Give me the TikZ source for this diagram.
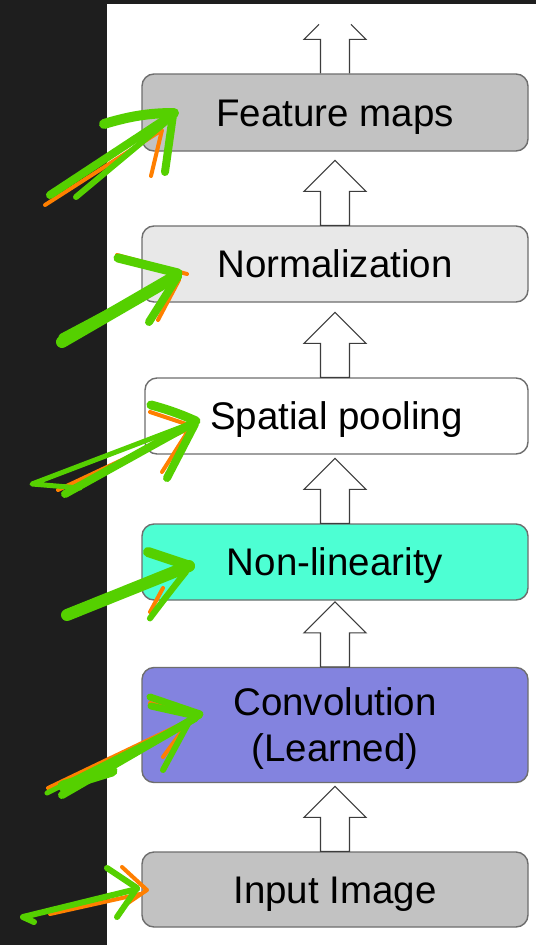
\documentclass[tikz,border=0pt]{standalone}
\usepackage{fontspec}
\setmainfont{Liberation Sans}
\usetikzlibrary{calc}

\definecolor{panel}{HTML}{1E1E1E}
\definecolor{boxline}{HTML}{6E6E6E}
\definecolor{arrowline}{HTML}{3C3C3C}
\definecolor{greyfill}{HTML}{C2C2C2}
\definecolor{lightfill}{HTML}{E8E8E8}
\definecolor{aquafill}{HTML}{4DFFD3}
\definecolor{convfill}{HTML}{8383DF}
\definecolor{pen}{HTML}{55D000}
\definecolor{marker}{HTML}{FF7F00}

\tikzset{
  stage/.style={draw=boxline, line width=1.4pt, rounded corners=12pt,
    minimum width=386pt, inner sep=0pt, align=center,
    font=\fontsize{38.5}{46}\selectfont},
  oneline/.style={text height=27.6pt, text depth=0pt},
  blockline/.style={draw=arrowline, line width=1.1pt, line join=miter},
  % hollow block arrow pointing up from the start box to the target box
  blockup/.style={blockline, fill=white,
    to path={let \p1=(\tikztostart) in
      (\x1-14.5pt,\y1) -- (\x1-14.5pt,\y1+34pt) -- (\x1-31pt,\y1+34pt)
      -- (\x1,\y1+65pt) -- (\x1+31pt,\y1+34pt) -- (\x1+14.5pt,\y1+34pt)
      -- (\x1+14.5pt,\y1) -- cycle}},
  penstroke/.style={draw=pen, line cap=round, line join=round},
  markerstroke/.style={draw=marker, line cap=round, line join=round, line width=4pt},
}

\begin{document}
\begin{tikzpicture}[x=1pt, y=-1pt]
  % dark frame and white page
  \fill[panel] (0,0) rectangle (536,945);
  \fill[white] (107,4) rectangle (536,945);
  \useasboundingbox (0,0) rectangle (536,945);

  % pipeline stages
  \node[stage, oneline, fill=greyfill, minimum height=77pt] (fm) at (335,112.5) {Feature maps};
  \node[stage, oneline, fill=lightfill, minimum height=76pt] (norm) at (335,264) {Normalization};
  \node[stage, oneline, fill=white, minimum width=383pt, minimum height=76pt] (pool) at (336.5,416) {Spatial pooling};
  \node[stage, oneline, fill=aquafill, minimum height=76pt] (nonlin) at (335,562) {Non-linearity};
  \node[stage, text depth=0pt, fill=convfill, minimum height=115pt] (conv) at (335,725) {Convolution\\(Learned)};
  \node[stage, oneline, fill=greyfill, minimum height=75pt] (input) at (335,889.5) {Input Image};

  % hollow arrows between the stages
  \draw[blockup] (input.north) to (conv.south);
  \draw[blockup] (conv.north) to (nonlin.south);
  \draw[blockup] (nonlin.north) to (pool.south -| nonlin.north);
  \draw[blockup] (pool.north -| norm.south) to (norm.south);
  \draw[blockup] (norm.north) to (fm.south);
  % outgoing arrow above the last stage, cut off at the top
  \coordinate (out) at (fm.north);
  \draw[blockline] ($(out)+(-14.5,0)$) -- ++(0,-34) -- ++(-16.5,0) -- ++(15,-15);
  \draw[blockline] ($(out)+(14.5,0)$) -- ++(0,-34) -- ++(16.5,0) -- ++(-15,-15);

  % hand-drawn marker arrows: orange underlay
  \draw[markerstroke] (45,205) -- (162,130) -- (151,176);
  \draw[markerstroke] (117,255) -- (187,274);
  \draw[markerstroke] (179,280) -- (158,320);
  \draw[markerstroke] (58,490) -- (190,428) -- (162,472);
  \draw[markerstroke] (150,412) -- (186,424);
  \draw[markerstroke] (95,607) -- (185,571);
  \draw[markerstroke] (163,588) -- (150,612);
  \draw[markerstroke] (48,788) -- (190,720) -- (163,757);
  \draw[markerstroke] (150,703) -- (186,712);
  \draw[markerstroke] (50,914) -- (140,894);
  \draw[markerstroke] (122,867) -- (147,890) -- (125,905);

  % hand-drawn marker arrows: green strokes
  % feature maps
  \draw[penstroke, line width=8pt] (50,195) -- (170,116);
  \draw[penstroke, line width=6pt] (76,197) -- (166,122);
  \draw[penstroke, line width=10pt] (104,124) .. controls (130,116) and (150,113) .. (174,113);
  \draw[penstroke, line width=8pt] (173,115) -- (165,172);
  % normalization
  \draw[penstroke, line width=12pt] (62,342) -- (176,276);
  \draw[penstroke, line width=7pt] (62,337) -- (128,302);
  \draw[penstroke, line width=9pt] (118,258) -- (178,273);
  \draw[penstroke, line width=8pt] (178,276) -- (149,322);
  % spatial pooling
  \draw[penstroke, line width=5pt] (80,488) -- (32,484) -- (192,423);
  \draw[penstroke, line width=8pt] (65,494) -- (193,423);
  \draw[penstroke, line width=9pt] (151,405) .. controls (170,410) and (185,416) .. (196,421);
  \draw[penstroke, line width=8pt] (195,424) -- (167,478);
  % non-linearity
  \draw[penstroke, line width=12pt] (67,615) -- (189,566);
  \draw[penstroke, line width=10pt] (148,552) -- (190,566);
  \draw[penstroke, line width=6pt] (186,572) .. controls (165,598) and (145,625) .. (151,617)
    .. controls (157,608) and (170,592) .. (182,576);
  % convolution
  \draw[penstroke, line width=5pt] (47,793) -- (200,716);
  \draw[penstroke, line width=8pt] (62,795) -- (195,718);
  \draw[penstroke, line width=11pt] (63,786) -- (112,771);
  \draw[penstroke, line width=7pt] (150,697) -- (200,714);
  \draw[penstroke, line width=7pt] (151,706) -- (196,716);
  \draw[penstroke, line width=6pt] (190,720) -- (163,770);
  % input image
  \draw[penstroke, line width=6pt] (34,922) -- (23,917) -- (137,889);
  \draw[penstroke, line width=6pt] (107,868) -- (137,888) -- (117,917);
\end{tikzpicture}
\end{document}
